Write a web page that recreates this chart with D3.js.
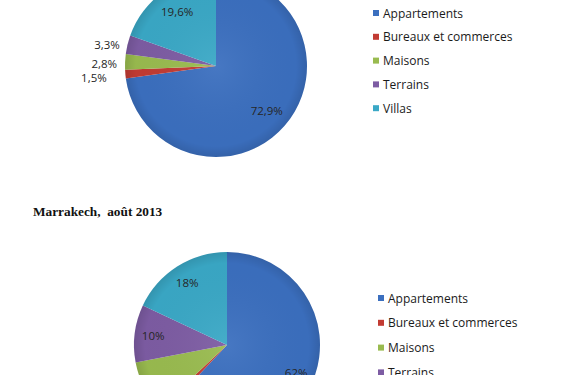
<!DOCTYPE html>
<html>
<head>
<meta charset="utf-8">
<script src="https://cdn.jsdelivr.net/npm/d3@7"></script>
<style>
  body { margin: 0; background: #fff; }
  svg { display: block; }
</style>
</head>
<body>
<div id="chart"></div>
<script>
// categories shared by both pies
var categories = ['Appartements', 'Bureaux et commerces', 'Maisons', 'Terrains', 'Villas'];
// shares in percent
var valuesTop = [72.9, 1.5, 2.8, 3.3, 19.6];
var labelsTop = ['72,9%', '1,5%', '2,8%', '3,3%', '19,6%'];
var valuesMarrakech = [62, 1, 9, 10, 18];
var labelsMarrakech = ['62%', '1%', '9%', '10%', '18%'];
var titleMarrakech = 'Marrakech,  août 2013';

(function() {
    var width = 567, height = 375;
    var colors = ['#3b6fbf', '#c23b33', '#99bb4f', '#7d5ca3', '#3aa8c6'];

    var svg = d3.select('#chart').append('svg')
        .attr('width', width)
        .attr('height', height);

    svg.append('rect').attr('width', width).attr('height', height).attr('fill', '#fff');

    var color = d3.scaleOrdinal().domain(categories).range(colors);

    // soft shading like the office charts
    var defs = svg.append('defs');
    var shade = defs.append('radialGradient').attr('id', 'shade')
        .attr('cx', '50%').attr('cy', '50%').attr('r', '50%');
    shade.append('stop').attr('offset', '0%').attr('stop-color', '#fff').attr('stop-opacity', 0.06);
    shade.append('stop').attr('offset', '88%').attr('stop-color', '#000').attr('stop-opacity', 0.02);
    shade.append('stop').attr('offset', '100%').attr('stop-color', '#000').attr('stop-opacity', 0.12);

    function drawPie(values, labels, cx, cy, r, labelPos) {
        var pie = d3.pie().sort(null).value(d => d);
        var arcs = pie(values);
        var arc = d3.arc().innerRadius(0).outerRadius(r);
        var inner = d3.arc().innerRadius(r * labelPos).outerRadius(r * labelPos);

        var g = svg.append('g').attr('transform', `translate(${cx}, ${cy})`);

        g.selectAll('path.slice')
            .data(arcs)
            .join('path')
                .attr('class', 'slice')
                .attr('d', arc)
                .attr('fill', (d, i) => color(categories[i]));

        g.append('circle').attr('r', r).attr('fill', 'url(#shade)');

        // small slices get their label outside the pie
        g.selectAll('text')
            .data(arcs)
            .join('text')
                .attr('font-family', 'Open Sans, sans-serif')
                .attr('font-size', '11.5px')
                .attr('fill', '#262626')
                .attr('dominant-baseline', 'central')
                .attr('text-anchor', d => (d.endAngle - d.startAngle) < 0.3 ? 'end' : 'middle')
                .attr('transform', d => {
                    if ((d.endAngle - d.startAngle) < 0.3) {
                        var a = (d.startAngle + d.endAngle) / 2;
                        var rr = r + 8 + Math.max(0, Math.cos(a) * -120);
                        return `translate(${Math.sin(a) * rr}, ${-Math.cos(a) * rr + 2})`;
                    }
                    return `translate(${inner.centroid(d)})`;
                })
                .text((d, i) => labels[i]);
    }

    function drawLegend(x, y, step) {
        var lg = svg.append('g').attr('transform', `translate(${x}, ${y})`);
        var rows = lg.selectAll('g')
            .data(categories)
            .join('g')
                .attr('transform', (d, i) => `translate(0, ${i * step})`);
        rows.append('rect')
            .attr('x', 0).attr('y', -3)
            .attr('width', 6).attr('height', 6)
            .attr('fill', d => color(d));
        rows.append('text')
            .attr('x', 10)
            .attr('dominant-baseline', 'central')
            .attr('font-family', 'Open Sans, sans-serif')
            .attr('font-size', '12px')
            .attr('fill', '#1a1a1a')
            .text(d => d);
    }

    drawPie(valuesTop, labelsTop, 216, 66, 91, 0.74);
    drawLegend(373, 13, 23.8);

    svg.append('text')
        .attr('x', 33).attr('y', 216)
        .attr('font-family', 'Liberation Serif, serif')
        .attr('font-weight', 'bold')
        .attr('font-size', '13.3px')
        .attr('fill', '#111')
        .attr('xml:space', 'preserve')
        .style('white-space', 'pre')
        .text(titleMarrakech);

    drawPie(valuesMarrakech, labelsMarrakech, 227, 345, 93, 0.8);
    drawLegend(378, 298, 24.8);
})();
</script>
</body>
</html>
